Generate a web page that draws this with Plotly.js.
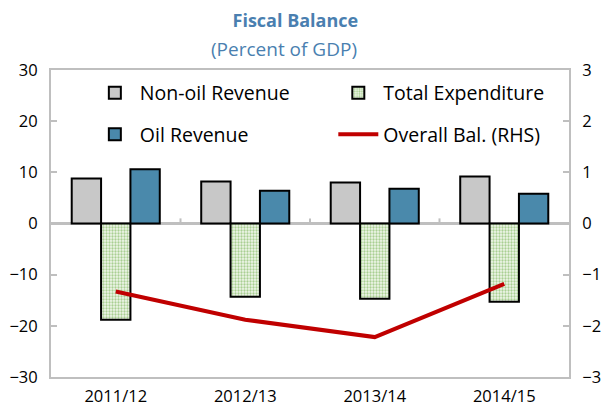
<!DOCTYPE html>
<html>
<head>
<meta charset="utf-8">
<script src="https://cdn.plot.ly/plotly-3.0.1.min.js"></script>
<style>html,body{margin:0;padding:0;background:#fff;}#chart{width:602px;height:409px;}</style>
</head>
<body>
<div id="chart"></div>
<script>
const categories = ["2011/12", "2012/13", "2013/14", "2014/15"];
const nonOilRevenue = [8.8, 8.2, 8.0, 9.2];
const totalExpenditure = [-18.8, -14.3, -14.7, -15.3];
const oilRevenue = [10.6, 6.4, 6.8, 5.8];
const overallBalance = [-1.33, -1.88, -2.22, -1.18];
const leftTicks = [-30, -20, -10, 0, 10, 20, 30];
const rightTicks = [-3, -2, -1, 0, 1, 2, 3];
const boundaryTicks = [0.5, 1.5, 2.5];

const FONT = "'Open Sans', 'Noto Sans', sans-serif";
const GRAY = "#bfbfbf";
const BLUE_TITLE = "#4a7fb0";

const traces = [
  {type: "bar", name: "Non-oil Revenue", x: categories, y: nonOilRevenue,
   marker: {color: "#c8c8c8", line: {color: "#000", width: 2}}, legend: "legend"},
  {type: "bar", name: "Total Expenditure", x: categories, y: totalExpenditure,
   marker: {color: "#e4f0da", line: {color: "#000", width: 2},
            pattern: {shape: ".", fgcolor: "#a9cf92", bgcolor: "#f0f7eb", size: 3, solidity: 0.45}},
   legend: "legend"},
  {type: "bar", name: "Oil Revenue", x: categories, y: oilRevenue,
   marker: {color: "#4a89ab", line: {color: "#000", width: 2}}, legend: "legend2"},
  {type: "scatter", mode: "lines", name: "Overall Bal. (RHS)", x: categories, y: overallBalance,
   yaxis: "y2", line: {color: "#c00000", width: 4}, legend: "legend2"}
];

const legendBase = {orientation: "h", x: 0.075, xanchor: "left", yanchor: "middle",
  entrywidth: 0.47, entrywidthmode: "fraction", bgcolor: "rgba(0,0,0,0)",
  font: {family: FONT, size: 19.5, color: "#000"}, itemwidth: 40, traceorder: "normal"};

// small tick marks on the zero line at the category boundaries (axis decoration)
const boundaryShapes = boundaryTicks.map(b => ({
  type: "line", xref: "x", yref: "y", x0: b, x1: b, y0: 0, y1: 1,
  line: {color: GRAY, width: 2}, layer: "above"
}));

const layout = {
  width: 602, height: 409,
  margin: {l: 51, r: 33, t: 70, b: 32},
  paper_bgcolor: "#fff", plot_bgcolor: "#fff",
  font: {family: FONT, size: 16, color: "#000"},
  title: {
    text: "<b>Fiscal Balance</b>",
    font: {family: FONT, size: 18, color: BLUE_TITLE},
    x: 284 / 602, xanchor: "center", xref: "paper",
    y: 1 - 21 / 409, yanchor: "middle", yref: "container"
  },
  annotations: [{
    text: "(Percent of GDP)", xref: "paper", yref: "paper",
    x: (284 - 51) / 518, y: (377 - 49) / 307, xanchor: "center", yanchor: "middle",
    showarrow: false, font: {family: FONT, size: 19, color: BLUE_TITLE}
  }],
  shapes: boundaryShapes,
  barmode: "group", bargap: 0.32, bargroupgap: 0,
  showlegend: true,
  legend: Object.assign({}, legendBase, {y: 0.925}),
  legend2: Object.assign({}, legendBase, {y: 0.79}),
  xaxis: {type: "category", showline: true, linecolor: GRAY, linewidth: 2, mirror: true,
          ticks: "", showgrid: false, tickfont: {family: FONT, size: 16.5}, ticklabelstandoff: 3},
  yaxis: {range: [-30, 30], tickvals: leftTicks, ticks: "inside", ticklen: 6, tickcolor: GRAY,
          tickwidth: 2, showline: true, linecolor: GRAY, linewidth: 2, showgrid: false,
          zeroline: true, zerolinecolor: GRAY, zerolinewidth: 2.5, layer: "above traces",
          tickfont: {family: FONT, size: 16.5}, ticklabelstandoff: 8},
  yaxis2: {overlaying: "y", side: "right", range: [-3, 3], tickvals: rightTicks,
           ticks: "inside", ticklen: 6, tickcolor: GRAY, tickwidth: 2, showline: true,
           linecolor: GRAY, linewidth: 2, showgrid: false, zeroline: false,
           tickfont: {family: FONT, size: 16.5}, ticklabelstandoff: 8}
};

Plotly.newPlot("chart", traces, layout, {displayModeBar: false, staticPlot: true});
</script>
</body>
</html>
